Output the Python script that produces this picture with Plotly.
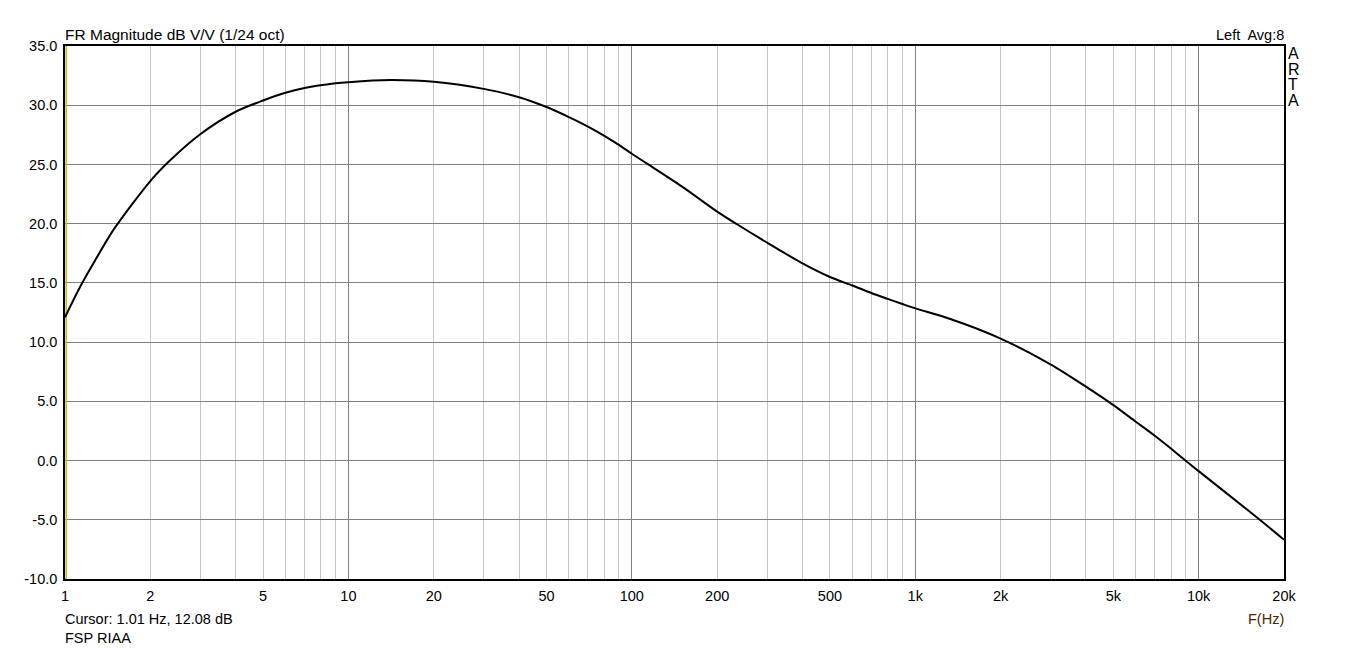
import numpy as np
import plotly.graph_objects as go

# ---- data ----
freq_hz = [1.0, 1.13, 1.26, 1.48, 2, 2.35, 3, 4, 5, 6, 7, 9, 10, 14, 20, 30, 40, 50,
           60, 70, 80, 90, 100, 114, 150, 200, 235, 300, 400, 500, 600, 700, 800, 900,
           1000, 1330, 2000, 3000, 4000, 5000, 6000, 7000, 8000, 9000, 10000,
           15000, 16470, 20000]
mag_db = [12.1, 14.65, 16.65, 19.45, 23.6, 25.35, 27.55, 29.45, 30.4, 31.05, 31.45, 31.85,
          31.95, 32.12, 31.98, 31.38, 30.68, 29.85, 29.0, 28.2, 27.42, 26.65, 25.9, 25.02,
          23.15, 21.02, 19.95, 18.4, 16.65, 15.5, 14.78, 14.15, 13.65, 13.22, 12.85, 11.95,
          10.3, 8.12, 6.24, 4.68, 3.28, 2.1, 1.0, -0.02, -0.89, -4.24, -5.02, -6.68]

x_tick_vals = [1, 2, 5, 10, 20, 50, 100, 200, 500, 1000, 2000, 5000, 10000, 20000]
x_tick_text = ["1", "2", "5", "10", "20", "50", "100", "200", "500", "1k", "2k", "5k", "10k", "20k"]
decades = [1, 10, 100, 1000, 10000]
minor_vals = [m * d for d in decades for m in range(2, 10) if m * d < 20000]
y_tick_vals = [-10, -5, 0, 5, 10, 15, 20, 25, 30, 35]
y_tick_text = ["-10.0", "-5.0", "0.0", "5.0", "10.0", "15.0", "20.0", "25.0", "30.0", "35.0"]

cursor_f = 1.01
title_text = "FR Magnitude dB V/V (1/24 oct)"
right_text = "Left  Avg:8"
cursor_text = "Cursor: 1.01 Hz, 12.08 dB"
trace_name = "FSP RIAA"
x_title = "F(Hz)"
brand = "ARTA"

FONT = "Liberation Sans, Arial, sans-serif"

fig = go.Figure()
# invisible trace to anchor the labelled overlay axis
fig.add_trace(go.Scatter(x=freq_hz, y=mag_db, xaxis="x2", mode="lines",
                         line=dict(color="rgba(0,0,0,0)"), hoverinfo="skip", showlegend=False))
# cursor
fig.add_trace(go.Scatter(x=[cursor_f, cursor_f], y=[y_tick_vals[0], y_tick_vals[-1]], mode="lines",
                         line=dict(color="#c0c000", width=1.5), hoverinfo="skip", showlegend=False))
# response curve
fig.add_trace(go.Scatter(x=freq_hz, y=mag_db, mode="lines", name=trace_name,
                         line=dict(color="black", width=2, shape="spline", smoothing=0.8),
                         showlegend=False))

xr = [np.log10(freq_hz[0]), np.log10(x_tick_vals[-1])]
fig.update_layout(
    width=1348, height=651, autosize=False,
    margin=dict(l=65, r=64, t=46, b=72),
    paper_bgcolor="white",
    plot_bgcolor="white",
    font=dict(family=FONT, size=14.5, color="black"),
    xaxis=dict(
        type="log", range=xr, tickvals=decades, showticklabels=False,
        showgrid=True, gridcolor="#808080", gridwidth=1,
        minor=dict(tickvals=minor_vals, showgrid=True, gridcolor="#c4c4c4", gridwidth=1, ticks=""),
        showline=True, linecolor="black", linewidth=1.5, mirror=True, ticks="", zeroline=False,
    ),
    xaxis2=dict(
        type="log", range=xr, overlaying="x", side="bottom", tickvals=x_tick_vals,
        ticktext=x_tick_text, showgrid=False, ticks="outside", ticklen=4,
        tickcolor="rgba(0,0,0,0)", tickfont=dict(family=FONT, size=14.5, color="black"),
        zeroline=False, showline=False,
    ),
    yaxis=dict(
        range=[y_tick_vals[0], y_tick_vals[-1]], tickvals=y_tick_vals, ticktext=y_tick_text,
        showgrid=True, gridcolor="#808080", gridwidth=1, zeroline=False,
        showline=True, linecolor="black", linewidth=1.5, mirror=True,
        ticks="outside", ticklen=3, tickcolor="rgba(0,0,0,0)",
        tickfont=dict(family=FONT, size=14.5, color="black"),
    ),
    showlegend=False,
)

ann = dict(xref="paper", yref="paper", showarrow=False, font=dict(family=FONT, size=14.5, color="black"))
fig.add_annotation(text=title_text, x=0, y=1, xanchor="left", yanchor="bottom", yshift=1, xshift=-2,
                   **{**ann, "font": dict(family=FONT, size=15.5, color="black")})
fig.add_annotation(text=right_text, x=1, y=1, xanchor="right", yanchor="bottom", yshift=1, xshift=2, **ann)
fig.add_annotation(text=cursor_text, x=0, y=0, xanchor="left", yanchor="top", yshift=-30, xshift=-2, **ann)
fig.add_annotation(text=trace_name, x=0, y=0, xanchor="left", yanchor="top", yshift=-49, xshift=-2, **ann)
fig.add_annotation(text=x_title, x=1, y=0, xanchor="right", yanchor="top", yshift=-30, xshift=2,
                   **{**ann, "font": dict(family=FONT, size=14.5, color="#4a2800")})
for i, ch in enumerate(brand):
    fig.add_annotation(text=ch, x=1, y=1, xanchor="left", yanchor="top", xshift=2, yshift=3 - 15.6 * i,
                       **{**ann, "font": dict(family=FONT, size=16, color="black")})

fig.write_html("out.html", config={"displayModeBar": False},
               post_script="document.body.style.margin='0';document.body.style.overflow='hidden';")
